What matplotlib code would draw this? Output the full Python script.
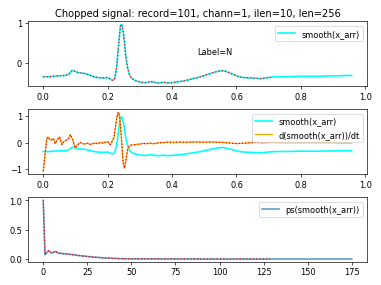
import matplotlib
matplotlib.use("Agg")
import matplotlib.pyplot as plt

# smoothed signal (seconds, amplitude)
sig_t = [0.000, 0.010, 0.020, 0.030, 0.040, 0.050, 0.060, 0.070, 0.080, 0.086,
         0.092, 0.100, 0.110, 0.120, 0.130, 0.140, 0.150, 0.160, 0.170, 0.180,
         0.190, 0.200, 0.205, 0.210, 0.216, 0.222, 0.228, 0.234, 0.240, 0.244,
         0.250, 0.256, 0.262, 0.268, 0.275, 0.285, 0.295, 0.305, 0.315, 0.325,
         0.335, 0.345, 0.355, 0.365, 0.375, 0.385, 0.395, 0.410, 0.425, 0.440,
         0.455, 0.470, 0.485, 0.500, 0.515, 0.530, 0.545, 0.555, 0.565, 0.575,
         0.590, 0.605, 0.620, 0.640, 0.660, 0.675, 0.690, 0.700, 0.708, 0.730,
         0.760, 0.790, 0.820, 0.850, 0.880, 0.910, 0.940, 0.958]
sig_v = [-0.34, -0.34, -0.34, -0.33, -0.32, -0.32, -0.31, -0.31, -0.27, -0.21,
         -0.18, -0.21, -0.24, -0.25, -0.26, -0.29, -0.32, -0.35, -0.36, -0.37,
         -0.37, -0.36, -0.38, -0.41, -0.43, -0.38, -0.10, 0.45, 0.95, 0.97,
         0.70, 0.20, -0.12, -0.30, -0.38, -0.43, -0.46, -0.48, -0.49, -0.48,
         -0.46, -0.48, -0.50, -0.49, -0.48, -0.50, -0.49, -0.48, -0.46, -0.44,
         -0.41, -0.38, -0.35, -0.31, -0.27, -0.23, -0.20, -0.19, -0.20, -0.23,
         -0.28, -0.33, -0.36, -0.37, -0.38, -0.39, -0.37, -0.36, -0.35, -0.34,
         -0.34, -0.33, -0.33, -0.33, -0.32, -0.32, -0.31, -0.31]

# derivative of smoothed signal
d_t = [0.000, 0.006, 0.011, 0.016, 0.020, 0.024, 0.028, 0.032, 0.037, 0.044,
       0.051, 0.058, 0.063, 0.071, 0.079, 0.084, 0.092, 0.099, 0.107, 0.115,
       0.122, 0.130, 0.138, 0.146, 0.154, 0.162, 0.170, 0.178, 0.186, 0.194,
       0.200, 0.208, 0.214, 0.220, 0.226, 0.231, 0.234, 0.238, 0.243, 0.248,
       0.252, 0.257, 0.262, 0.267, 0.272, 0.280, 0.290, 0.300, 0.310, 0.320,
       0.330, 0.340, 0.350, 0.360, 0.375, 0.390, 0.405, 0.420, 0.440, 0.460,
       0.480, 0.500, 0.520, 0.540, 0.560, 0.580, 0.600, 0.620, 0.640, 0.660,
       0.680, 0.700, 0.708, 0.740, 0.780, 0.820, 0.860, 0.900, 0.930, 0.958]
d_v = [-1.08, -0.40, 0.15, 0.21, 0.12, 0.09, 0.12, 0.15, -0.04, 0.11,
       0.21, -0.08, 0.02, 0.09, 0.15, 0.30, 0.09, -0.20, -0.08, 0.00,
       -0.04, -0.06, -0.02, -0.07, -0.04, -0.02, -0.05, 0.01, -0.03, 0.02,
       0.03, -0.08, 0.05, 0.20, 0.75, 1.10, 1.14, 0.90, 0.10, -0.75,
       -0.97, -0.65, -0.25, -0.15, -0.10, -0.09, -0.07, -0.06, -0.03, -0.05,
       -0.02, -0.05, -0.03, -0.01, 0.00, 0.02, 0.00, 0.02, 0.01, 0.02,
       0.02, 0.01, 0.02, 0.01, 0.00, -0.02, -0.04, -0.03, -0.01, 0.00,
       -0.01, 0.00, 0.00, -0.01, -0.01, -0.01, -0.01, -0.01, -0.02, -0.02]

# normalised power spectrum
ps_k = [0, 1, 2, 3, 4, 5, 6, 7, 8, 9, 10, 12, 14, 16, 18, 20, 23, 26, 30, 34,
        38, 42, 46, 50, 60, 70, 80, 90, 100, 110, 120, 129, 140, 150, 160, 175]
ps_v = [1.00, 0.07, 0.11, 0.14, 0.12, 0.10, 0.12, 0.13, 0.11, 0.10, 0.095,
        0.09, 0.085, 0.075, 0.07, 0.06, 0.05, 0.04, 0.03, 0.02, 0.013, 0.008,
        0.005, 0.003, 0.002, 0.001, 0.001, 0.0, 0.0, 0.0, 0.0, 0.0, 0.0, 0.0,
        0.0, 0.0]

t_end = 0.708   # end of the 256-sample chunk
k_end = 129

n_sig = len([t for t in sig_t if t <= t_end])
n_d = len([t for t in d_t if t <= t_end])
n_ps = len([k for k in ps_k if k <= k_end])

fig, axs = plt.subplots(3, 1, figsize=(6.4, 4.8))

ax = axs[0]
ax.plot(sig_t, sig_v, color="cyan", lw=2, label="smooth(x_arr)")
ax.plot(sig_t[:n_sig], sig_v[:n_sig], "r:")
ax.set_title("Chopped signal: record=101, chann=1, ilen=10, len=256")
ax.text(0.5, 0.5, "Label=N", transform=ax.transAxes)
ax.legend(loc="upper right")

ax = axs[1]
ax.plot(sig_t, sig_v, color="cyan", lw=2, label="smooth(x_arr)")
ax.plot(d_t, d_v, color="orange", label="d(smooth(x_arr))/dt")
ax.plot(d_t[:n_d], d_v[:n_d], "r:")
ax.legend(loc="upper right")

ax = axs[2]
ax.plot(ps_k, ps_v, color="C0", alpha=0.7, lw=2, label="ps(smooth(x_arr))")
ax.plot(ps_k[:n_ps], ps_v[:n_ps], "r:")
ax.legend(loc="upper right")

plt.tight_layout()
plt.savefig("out.png", dpi=381 / 6.4)
